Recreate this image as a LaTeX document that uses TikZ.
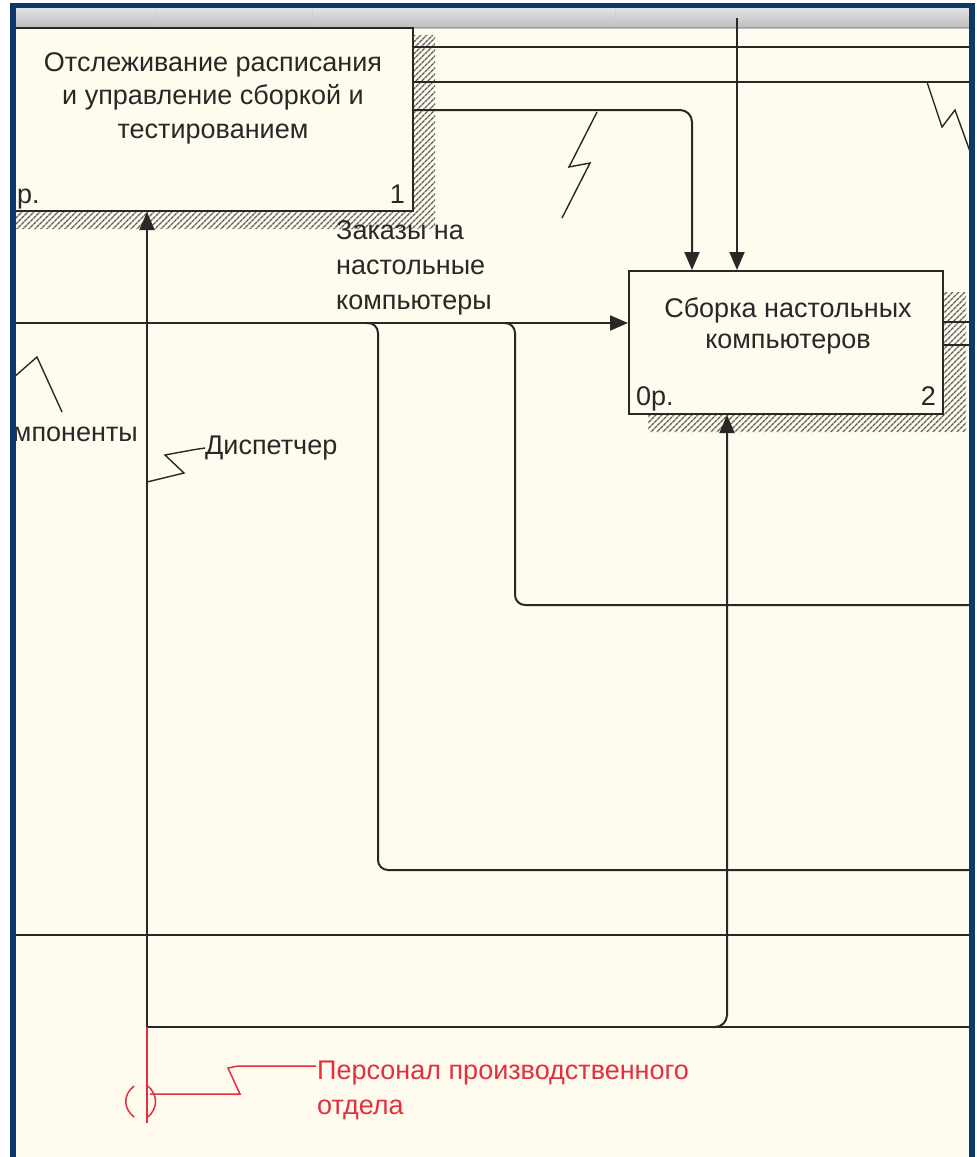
\documentclass[tikz,border=0pt]{standalone}
\usepackage{fontspec}
\setmainfont{Liberation Sans}
\usetikzlibrary{arrows.meta,positioning,patterns.meta}
\definecolor{clrLine}{RGB}{40,40,38}
\definecolor{clrText}{RGB}{40,40,38}
\definecolor{clrRed}{RGB}{226,48,62}
\definecolor{clrFrame}{RGB}{12,56,108}
\definecolor{clrHatch}{RGB}{95,95,90}
\definecolor{bgPaper}{RGB}{255,251,239}
\tikzset{
  activity/.style={rectangle,draw=clrLine,line width=2pt,fill=bgPaper,inner sep=0pt},
  actname/.style={font=\fontsize{27}{33.5}\selectfont,text=clrText,align=center,inner sep=0pt},
  actnum/.style={font=\fontsize{27}{30}\selectfont,text=clrText,inner sep=0pt},
  hatch/.style={pattern={Lines[angle=45,distance=4pt,line width=1.4pt]},pattern color=clrHatch},
  link/.style={draw=clrLine,line width=2pt},
  linkto/.style={link,-{Triangle[length=18pt,width=15pt]}},
  squiggle/.style={draw=clrLine,line width=1.4pt},
  redlink/.style={draw=clrRed,line width=1.5pt},
  arrlabel/.style={font=\fontsize{27}{35}\selectfont,text=clrText,align=left,inner sep=0pt}
}
\begin{document}
\begin{tikzpicture}[x=1pt,y=-1pt]
  \useasboundingbox (0,0) rectangle (977,1157);
  \fill[white] (0,0) rectangle (977,1157);
  \begin{scope}
    \clip (13,8) rectangle (970,1157);
    \fill[bgPaper] (13,8) rectangle (970,1157);
    % toolbar strip
    \shade[top color=gray!22,bottom color=gray!52] (13,8) rectangle (970,28);
    \foreach \sx in {156,312,615}
      \draw[gray!38,line width=1pt] (\sx,9) -- (\sx,26);
    \draw[gray!75,line width=1.5pt] (13,27.5) -- (970,27.5);
    % shadows
    \fill[hatch] (413,35) -- (435,35) -- (435,229) -- (0,229) -- (0,211) -- (413,211) -- cycle;
    \fill[hatch] (943,292) -- (966,292) -- (966,432) -- (648,432) -- (648,414) -- (943,414) -- cycle;
    % activities
    \node[activity,minimum width=433pt,minimum height=183pt] (track) at (196.5,119.5) {};
    \node[activity,minimum width=314pt,minimum height=143pt] (assembly) at (786,342.5) {};
    \node[actname] (trackname) at (213,98)
      {Отслеживание расписания\\и управление сборкой и\\тестированием};
    \node[actnum,anchor=base west] (trackref) at (2,203) {0р.};
    \node[actnum,anchor=base east] (tracknum) at (405,203) {1};
    \node[actname,font=\fontsize{27}{31}\selectfont] (asmname) at (788,326)
      {Сборка настольных\\компьютеров};
    \node[actnum,anchor=base west] (asmref) at (636,405) {0р.};
    \node[actnum,anchor=base east] (asmnum) at (936,405) {2};
    % arrow ends
    \coordinate (ctlA) at (975,47);
    \coordinate (ctlB) at (975,82);
    \coordinate (ctlC) at (692,110);
    \coordinate (ctlD) at (737,18);
    \coordinate (orders) at (10,323);
    \coordinate (forkA) at (366,323);
    \coordinate (forkB) at (503,323);
    \coordinate (branchA) at (378,870);
    \coordinate (branchB) at (515,605);
    \coordinate (outA) at (975,322);
    \coordinate (outB) at (975,345);
    \coordinate (bndL) at (10,935);
    \coordinate (bndR) at (975,935);
    \coordinate (staff) at (147,1123);
    \coordinate (staffJ) at (147,1027);
    \coordinate (forkC) at (713,1027);
    \coordinate (staffB) at (727,1027);
    % connectors
    \draw[link] (track.east |- ctlA) -- (ctlA);
    \draw[link] (track.east |- ctlB) -- (ctlB);
    \draw[linkto,rounded corners=12pt] (track.east |- ctlC) -- (ctlC) -- (assembly.north -| ctlC);
    \draw[linkto] (ctlD) -- (assembly.north -| ctlD);
    \draw[linkto] (orders) -- (assembly.west |- orders);
    \draw[link,rounded corners=10pt] (forkA) -| (branchA) -- (branchA -| outA);
    \draw[link,rounded corners=10pt] (forkB) -| (branchB) -- (branchB -| outA);
    \draw[link] (assembly.east |- outA) -- (outA);
    \draw[link] (assembly.east |- outB) -- (outB);
    \draw[link] (bndL) -- (bndR);
    \draw[linkto] (staffJ) -- (track.south -| staffJ);
    \draw[link] (staffJ) -- (staffJ -| outA);
    \draw[linkto,rounded corners=12pt] (forkC) -- (staffB) -- (assembly.south -| staffB);
    \draw[redlink,line width=1.8pt] (staff) -- (staffJ);
    % labels
    \node[arrlabel,anchor=west] (orderslbl) at (336,268) {Заказы на\\настольные\\компьютеры};
    \node[arrlabel,anchor=west] (dispatcher) at (205,448) {Диспетчер};
    \node[arrlabel,anchor=east] (parts) at (138,432) {Компоненты};
    \node[arrlabel,anchor=west,text=clrRed] (staffLbl) at (317,1090)
      {Персонал производственного\\отдела};
    % squiggles
    \draw[squiggle] (597,112) -- (569,167) -- (590,163) -- (562,218);
    \draw[squiggle] (927,82) -- (942,127) -- (955,110) -- (976,168);
    \draw[squiggle] (staffJ |- 0,482) -- (184,473) -- (165,455) -- (192,450) -- (dispatcher.west);
    \draw[squiggle] (5,385) -- (37,357) -- (62,412);
    \draw[redlink] (150,1094) -- (240,1094) -- (228,1068) -- (238,1066) -- (316,1066);
    % tunnel
    \draw[redlink] (134,1086) .. controls (123,1095) and (123,1108) .. (134,1117);
    \draw[redlink] (148,1086) .. controls (158,1095) and (158,1108) .. (148,1117);
  \end{scope}
  % frame
  \fill[clrFrame] (10,3) rectangle (16,1157);
  \fill[clrFrame] (10,3) rectangle (975,8);
  \fill[clrFrame] (969,3) rectangle (975,1157);
\end{tikzpicture}
\end{document}
